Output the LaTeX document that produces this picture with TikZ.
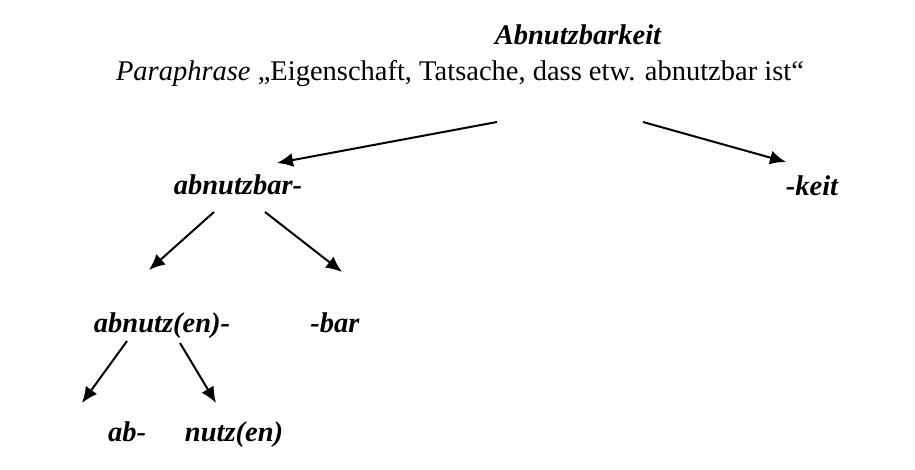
\documentclass[tikz,border=0pt]{standalone}
\usepackage{fontspec}
\setmainfont{Liberation Serif}
\usetikzlibrary{arrows.meta}

\begin{document}
\begin{tikzpicture}[x=1pt, y=-1pt, -{Latex[length=16pt,width=14pt]}, line width=2pt,
  morph/.style={font=\fontsize{28.5}{32}\selectfont\bfseries\itshape, inner sep=0pt, anchor=base}]

\useasboundingbox (0,0) rectangle (915,470);

% Wort und Paraphrase
\node[morph] (wort) at (578,45) {Abnutzbarkeit};
\node[font=\fontsize{28.5}{32}\selectfont, inner sep=0pt, anchor=base] (para) at (460,81) {\textit{Paraphrase} „Eigenschaft, Tatsache, dass etw. abnutzbar ist“};

% Konstituenten
\node[morph] (abnutzbar) at (238,195) {abnutzbar-};
\node[morph] (keit) at (812,196) {-keit};
\node[morph] (abnutzen) at (162,332) {abnutz(en)-};
\node[morph] (bar) at (335,332) {-bar};
\node[morph] (ab) at (127,441) {ab-};
\node[morph] (nutzen) at (234,441) {nutz(en)};

% Pfeilenden
\coordinate (p1) at (497,122);
\coordinate (p2) at (643,122);
\coordinate (e1) at (277,163);
\coordinate (e2) at (786,162);
\coordinate (a1) at (214,212);
\coordinate (a2) at (265,212);
\coordinate (f1) at (149,270);
\coordinate (f2) at (342,272);
\coordinate (b1) at (127,341);
\coordinate (b2) at (180,343);
\coordinate (g1) at (82,403);
\coordinate (g2) at (216,403);

% Pfeile
\draw (p1) -- (e1);
\draw (p2) -- (e2);
\draw (a1) -- (f1);
\draw (a2) -- (f2);
\draw (b1) -- (g1);
\draw (b2) -- (g2);

\end{tikzpicture}
\end{document}
